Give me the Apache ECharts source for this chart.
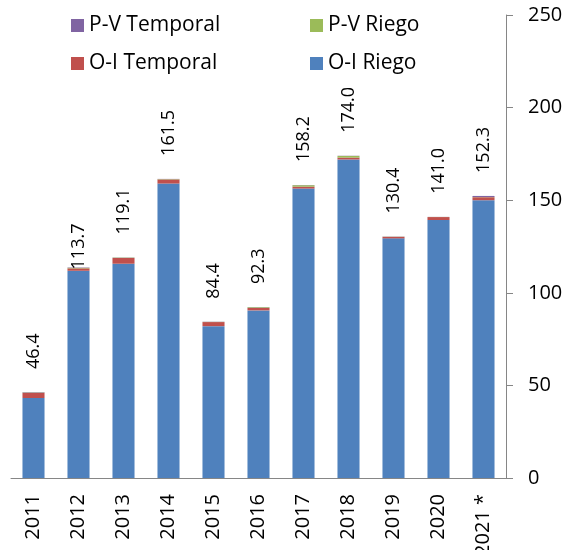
<!DOCTYPE html>
<html>
<head>
<meta charset="utf-8">
<script src="https://cdn.jsdelivr.net/npm/echarts@6/dist/echarts.min.js"></script>
<style>
  html, body { margin: 0; padding: 0; background: #fff; }
  #chart { width: 566px; height: 550px; }
</style>
</head>
<body>
<div id="chart"></div>
<script>
const years = ['2011', '2012', '2013', '2014', '2015', '2016', '2017', '2018', '2019', '2020', '2021 *']
const oiRiego = [43.2, 111.9, 115.7, 159.0, 82.0, 90.5, 156.3, 172.0, 129.4, 139.3, 150.0]
const oiTemporal = [2.8, 1.3, 3.1, 2.2, 2.2, 1.3, 1.0, 1.0, 0.8, 1.6, 1.6]
const pvRiego = [0.2, 0.3, 0.2, 0.2, 0.1, 0.4, 0.8, 0.9, 0.1, 0.05, 0.1]
const pvTemporal = [0.2, 0.2, 0.1, 0.1, 0.1, 0.1, 0.1, 0.1, 0.1, 0.05, 0.6]
const totals = [46.4, 113.7, 119.1, 161.5, 84.4, 92.3, 158.2, 174.0, 130.4, 141.0, 152.3]
const yTicks = [0, 50, 100, 150, 200, 250]

const font = 'Open Sans'
const chart = echarts.init(document.getElementById('chart'))

const bar = (name, data, color) => ({
  name: name,
  type: 'bar',
  stack: 'total',
  barWidth: '49%',
  data: data,
  itemStyle: { color: color },
  animation: false
})

// total labels sit on the top segment; 2012's label was dragged down onto its bar
const topSeries = bar('P-V Temporal',
  pvTemporal.map((v, i) => i === 1 ? { value: v, label: { distance: -2 } } : v),
  '#8064A2')
topSeries.label = {
  show: true,
  position: 'top',
  rotate: 90,
  align: 'left',
  verticalAlign: 'middle',
  distance: 23,
  color: '#000',
  fontFamily: font,
  fontSize: 18,
  formatter: p => totals[p.dataIndex].toFixed(1)
}

const legendText = { color: '#000', fontFamily: font, fontSize: 21 }
const legendBase = {
  orient: 'vertical',
  top: 10,
  itemWidth: 13,
  itemHeight: 13,
  itemGap: 17,
  icon: 'rect',
  textStyle: legendText
}

chart.setOption({
  grid: { left: 11, right: 60, top: 15, bottom: 72, outerBoundsMode: 'none' },
  legend: [
    Object.assign({}, legendBase, { left: 66, data: ['P-V Temporal', 'O-I Temporal'] }),
    Object.assign({}, legendBase, { left: 305, data: ['P-V Riego', 'O-I Riego'] })
  ],
  xAxis: {
    type: 'category',
    data: years,
    axisLine: { lineStyle: { color: '#868686' } },
    axisTick: { length: 7, lineStyle: { color: '#868686' } },
    axisLabel: {
      rotate: 90,
      margin: 16,
      color: '#000',
      fontFamily: font,
      fontSize: 20
    }
  },
  yAxis: {
    type: 'value',
    position: 'right',
    min: yTicks[0],
    max: yTicks[yTicks.length - 1],
    interval: 50,
    splitLine: { show: false },
    axisLine: { show: true, lineStyle: { color: '#868686' } },
    axisTick: { show: true, length: 7, lineStyle: { color: '#868686' } },
    axisLabel: {
      margin: 22,
      color: '#000',
      fontFamily: font,
      fontSize: 20
    }
  },
  series: [
    bar('O-I Riego', oiRiego, '#4F81BD'),
    bar('O-I Temporal', oiTemporal, '#C0504D'),
    bar('P-V Riego', pvRiego, '#9BBB59'),
    topSeries
  ]
})
</script>
</body>
</html>
